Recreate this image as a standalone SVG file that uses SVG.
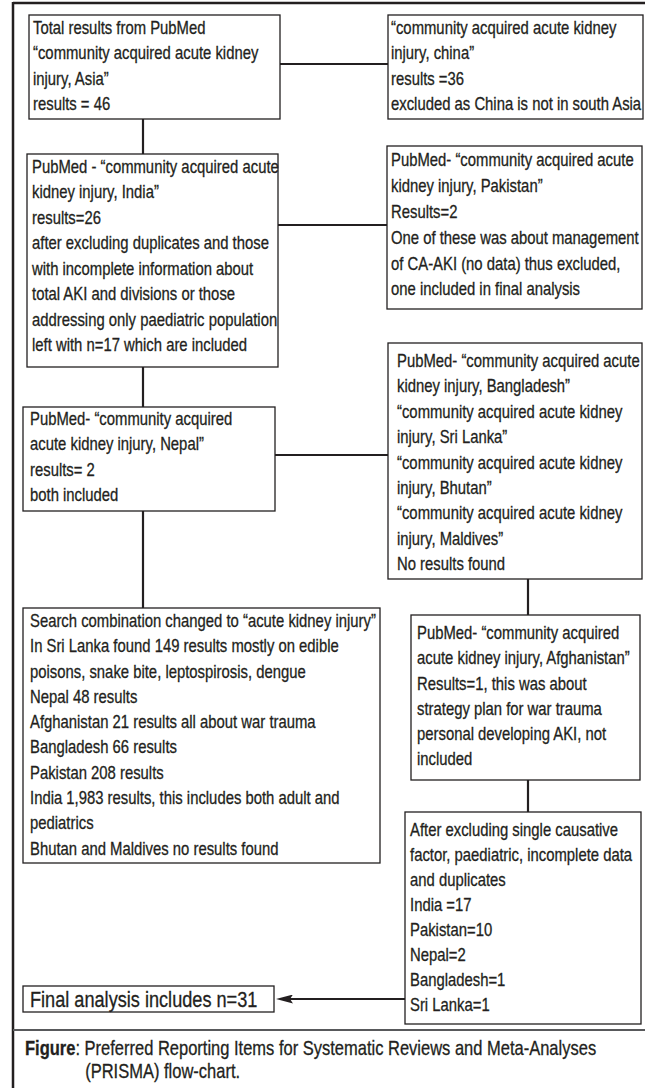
<svg xmlns="http://www.w3.org/2000/svg" width="645" height="1088" viewBox="0 0 645 1088">
<defs>
<style>
.box{fill:#fff;stroke:#231f20;stroke-width:1.3}
.t{font-family:"Liberation Sans",Arial,sans-serif;font-size:18px;fill:#231f20;stroke:#231f20;stroke-width:0.3}
.big{font-size:22px}
.cap{font-family:"Liberation Sans",Arial,sans-serif;font-size:20px;fill:#231f20;stroke:#231f20;stroke-width:0.3}
.con{stroke:#231f20;stroke-width:2.2;fill:none}
.frame{stroke:#231f20;stroke-width:2.5;fill:none}
</style>
<marker id="ah" markerUnits="userSpaceOnUse" viewBox="0 0 17 9" refX="13" refY="4.5" markerWidth="17" markerHeight="9" orient="auto">
<path d="M0,0 L17,4.5 L0,9 L3,4.5 z" fill="#231f20"/>
</marker>
</defs>
<rect width="645" height="1088" fill="#fff"/>
<g id="frame">
<line class="frame" x1="13" y1="3" x2="645" y2="3"/>
<line class="frame" x1="13" y1="2" x2="13" y2="1088"/>
<line x1="13" y1="1030" x2="645" y2="1030" stroke="#58595b" stroke-width="2"/>
</g>
<g id="connectors">
<line class="con" x1="280" y1="64" x2="388" y2="64"/>
<line class="con" x1="143" y1="119" x2="143" y2="154"/>
<line class="con" x1="278" y1="225" x2="387" y2="225"/>
<line class="con" x1="143" y1="367" x2="143" y2="407"/>
<line class="con" x1="275" y1="455" x2="388" y2="455"/>
<line class="con" x1="143" y1="511" x2="143" y2="608"/>
<line class="con" x1="528" y1="579" x2="528" y2="615"/>
<line class="con" x1="528" y1="780" x2="528" y2="812"/>
<line class="con" x1="411" y1="999" x2="280" y2="999" marker-end="url(#ah)"/>
</g>
<g id="asia">
<rect class="box" x="29" y="15" width="251" height="104"/>
<text class="t" transform="translate(33 0) scale(0.825 1)"><tspan x="0" y="34">Total results from PubMed</tspan><tspan x="0" y="59.3">“community acquired acute kidney</tspan><tspan x="0" y="84.6">injury, Asia”</tspan><tspan x="0" y="110">results = 46</tspan></text>
</g>
<g id="china">
<rect class="box" x="388" y="15" width="255" height="104"/>
<text class="t" transform="translate(391 0) scale(0.825 1)"><tspan x="0" y="34">“community acquired acute kidney</tspan><tspan x="0" y="59.3">injury, china”</tspan><tspan x="0" y="84.6">results =36</tspan><tspan x="0" y="110">excluded as China is not in south Asia</tspan></text>
</g>
<g id="india">
<rect class="box" x="27" y="154" width="251" height="213"/>
<text class="t" transform="translate(32 0) scale(0.825 1)"><tspan x="0" y="173">PubMed - “community acquired acute</tspan><tspan x="0" y="198.5">kidney injury, India”</tspan><tspan x="0" y="224">results=26</tspan><tspan x="0" y="249.5">after excluding duplicates and those</tspan><tspan x="0" y="275">with incomplete information about</tspan><tspan x="0" y="300.5">total AKI and divisions or those</tspan><tspan x="0" y="326">addressing only paediatric population</tspan><tspan x="0" y="351.5">left with n=17 which are included</tspan></text>
</g>
<g id="pakistan">
<rect class="box" x="387" y="146" width="255" height="163"/>
<text class="t" transform="translate(391 0) scale(0.825 1)"><tspan x="0" y="166.5">PubMed- “community acquired acute</tspan><tspan x="0" y="192.3">kidney injury, Pakistan”</tspan><tspan x="0" y="218">Results=2</tspan><tspan x="0" y="243.8">One of these was about management</tspan><tspan x="0" y="269.6">of CA-AKI (no data) thus excluded,</tspan><tspan x="0" y="295.4">one included in final analysis</tspan></text>
</g>
<g id="nepal">
<rect class="box" x="23" y="407" width="252" height="104"/>
<text class="t" transform="translate(30 0) scale(0.825 1)"><tspan x="0" y="425">PubMed- “community acquired</tspan><tspan x="0" y="450.3">acute kidney injury, Nepal”</tspan><tspan x="0" y="475.6">results= 2</tspan><tspan x="0" y="501">both included</tspan></text>
</g>
<g id="bangladesh">
<rect class="box" x="388" y="343" width="254" height="236"/>
<text class="t" transform="translate(397 0) scale(0.825 1)"><tspan x="0" y="367">PubMed- “community acquired acute</tspan><tspan x="0" y="392.4">kidney injury, Bangladesh”</tspan><tspan x="0" y="417.8">“community acquired acute kidney</tspan><tspan x="0" y="443.2">injury, Sri Lanka”</tspan><tspan x="0" y="468.6">“community acquired acute kidney</tspan><tspan x="0" y="494">injury, Bhutan”</tspan><tspan x="0" y="519.4">“community acquired acute kidney</tspan><tspan x="0" y="544.8">injury, Maldives”</tspan><tspan x="0" y="570.2">No results found</tspan></text>
</g>
<g id="search">
<rect class="box" x="23" y="608" width="357" height="255"/>
<text class="t" transform="translate(30 0) scale(0.825 1)"><tspan x="0" y="627">Search combination changed to “acute kidney injury”</tspan><tspan x="0" y="652.3">In Sri Lanka found 149 results mostly on edible</tspan><tspan x="0" y="677.6">poisons, snake bite, leptospirosis, dengue</tspan><tspan x="0" y="702.9">Nepal 48 results</tspan><tspan x="0" y="728.2">Afghanistan 21 results all about war trauma</tspan><tspan x="0" y="753.5">Bangladesh 66 results</tspan><tspan x="0" y="778.8">Pakistan 208 results</tspan><tspan x="0" y="804.1">India 1,983 results, this includes both adult and</tspan><tspan x="0" y="829.4">pediatrics</tspan><tspan x="0" y="854.7">Bhutan and Maldives no results found</tspan></text>
</g>
<g id="afghanistan">
<rect class="box" x="411" y="615" width="229" height="165"/>
<text class="t" transform="translate(417 0) scale(0.825 1)"><tspan x="0" y="639">PubMed- “community acquired</tspan><tspan x="0" y="664.3">acute kidney injury, Afghanistan”</tspan><tspan x="0" y="689.6">Results=1, this was about</tspan><tspan x="0" y="714.9">strategy plan for war trauma</tspan><tspan x="0" y="740.2">personal developing AKI, not</tspan><tspan x="0" y="765.5">included</tspan></text>
</g>
<g id="after">
<rect class="box" x="405" y="812" width="236" height="212"/>
<text class="t" transform="translate(410 0) scale(0.825 1)"><tspan x="0" y="836">After excluding single causative</tspan><tspan x="0" y="861">factor, paediatric, incomplete data</tspan><tspan x="0" y="886">and duplicates</tspan><tspan x="0" y="911">India =17</tspan><tspan x="0" y="936">Pakistan=10</tspan><tspan x="0" y="961">Nepal=2</tspan><tspan x="0" y="986">Bangladesh=1</tspan><tspan x="0" y="1011">Sri Lanka=1</tspan></text>
</g>
<g id="final">
<rect class="box" x="23" y="986" width="251" height="26"/>
<text class="t big" transform="translate(30 0) scale(0.825 1)"><tspan x="0" y="1007">Final analysis includes n=31</tspan></text>
</g>
<g id="caption">
<text class="cap" transform="translate(25 0) scale(0.825 1)"><tspan x="0" y="1055" font-weight="bold">Figure</tspan><tspan>: Preferred Reporting Items for Systematic Reviews and Meta-Analyses</tspan><tspan x="73" y="1078">(PRISMA) flow-chart.</tspan></text>
</g>
</svg>
